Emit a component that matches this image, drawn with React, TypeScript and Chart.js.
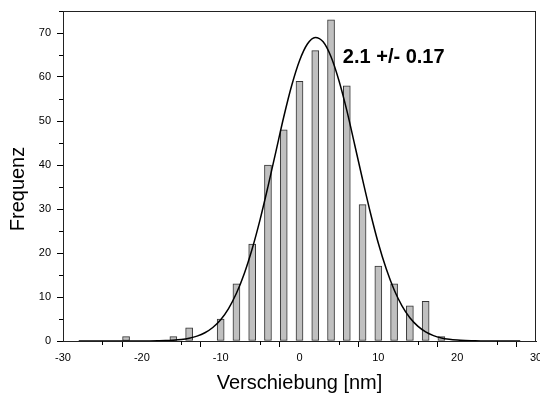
import React, { useEffect, useRef } from "react";
import { Chart, registerables } from "chart.js";

Chart.register(...registerables);

// Histogram bins (centre of bin, nm) and counts
const binCenters = [-22, -16, -14, -10, -8, -6, -4, -2, 0, 2, 4, 6, 8, 10, 12, 14, 16, 18];
const counts = [1, 1, 3, 5, 13, 22, 40, 48, 59, 66, 73, 58, 31, 17, 13, 8, 9, 1];

// Fitted curve
const curveX = [
  -28, -27, -26, -25, -24, -23, -22, -21, -20, -19, -18, -17, -16, -15, -14, -13, -12, -11, -10, -9,
  -8, -7, -6, -5, -4, -3, -2, -1, 0, 1, 2, 3, 4, 5, 6, 7, 8, 9, 10, 11, 12, 13, 14, 15, 16, 17, 18,
  19, 20, 21, 22, 23, 24, 25, 26, 27, 28,
];
const curveY = [
  0, 0, 0, 0, 0, 0, 0, 0, 0.01, 0.02, 0.05, 0.09, 0.18, 0.34, 0.63, 1.1, 1.87, 3.07, 4.84, 7.38,
  10.85, 15.35, 20.97, 27.6, 35.1, 43.0, 50.9, 58.0, 63.7, 67.5, 69.0, 68.0, 64.6, 59.2, 52.4, 44.6,
  36.7, 29.1, 22.2, 16.4, 11.65, 7.99, 5.28, 3.37, 2.07, 1.23, 0.7, 0.39, 0.21, 0.11, 0.05, 0, 0, 0,
  0, 0, 0,
];

const xTitle = "Verschiebung [nm]";
const yTitle = "Frequenz";
const fitLabel = "2.1 +/- 0.17";
const fitLabelPos = { x: 5.5, y: 64.5 };

const FONT = "'Liberation Sans', Arial, sans-serif";

const framePlugin = {
  id: "frame",
  afterDraw(chart: any) {
    const { ctx, chartArea } = chart;
    const xs = chart.scales.x;
    const ys = chart.scales.y;
    ctx.save();
    // frame
    ctx.strokeStyle = "#222";
    ctx.lineWidth = 1;
    ctx.beginPath();
    ctx.moveTo(chartArea.left, chartArea.top + 0.5);
    ctx.lineTo(chartArea.right, chartArea.top + 0.5);
    ctx.moveTo(chartArea.right - 0.5, chartArea.top);
    ctx.lineTo(chartArea.right - 0.5, chartArea.bottom);
    ctx.stroke();
    // minor ticks
    ctx.strokeStyle = "#000";
    ctx.beginPath();
    xs.ticks.forEach((t: any) => {
      if (t.value % 10 !== 0) {
        const px = Math.round(xs.getPixelForValue(t.value)) + 0.5;
        ctx.moveTo(px, chartArea.bottom);
        ctx.lineTo(px, chartArea.bottom + 4);
      }
    });
    ys.ticks.forEach((t: any) => {
      if (t.value % 10 !== 0) {
        const py = Math.round(ys.getPixelForValue(t.value)) + 0.5;
        ctx.moveTo(chartArea.left, py);
        ctx.lineTo(chartArea.left - 4, py);
      }
    });
    ctx.stroke();
    // y title
    ctx.fillStyle = "#000";
    ctx.font = `20px ${FONT}`;
    ctx.textAlign = "center";
    ctx.textBaseline = "middle";
    ctx.translate(18, (chartArea.top + chartArea.bottom) / 2 + 13);
    ctx.rotate(-Math.PI / 2);
    ctx.fillText(yTitle, 0, 0);
    ctx.restore();
    // fit label
    ctx.save();
    ctx.fillStyle = "#000";
    ctx.font = `bold 20px ${FONT}`;
    ctx.textAlign = "left";
    ctx.textBaseline = "middle";
    ctx.fillText(fitLabel, xs.getPixelForValue(fitLabelPos.x), ys.getPixelForValue(fitLabelPos.y));
    ctx.restore();
  },
};

export default function App() {
  const ref = useRef<HTMLCanvasElement>(null);
  useEffect(() => {
    document.body.style.margin = "0";
    const canvas = ref.current!;
    const chart = new Chart(canvas, {
      type: "bar",
      data: {
        datasets: [
          {
            type: "line",
            data: curveX.map((x, i) => ({ x, y: curveY[i] })),
            borderColor: "#000",
            borderWidth: 1.5,
            pointRadius: 0,
            cubicInterpolationMode: "monotone",
            fill: false,
            order: 0,
          } as any,
          {
            type: "bar",
            data: binCenters.map((x, i) => ({ x, y: counts[i] })),
            backgroundColor: "#c0c0c0",
            borderColor: "#333",
            borderWidth: 1,
            borderSkipped: false,
            barThickness: 7,
            order: 1,
          } as any,
        ],
      },
      options: {
        responsive: false,
        animation: false,
        layout: { padding: { top: 11, right: 4, bottom: 0, left: 0 } },
        plugins: { legend: { display: false }, tooltip: { enabled: false } },
        scales: {
          x: {
            type: "linear",
            min: -30,
            max: 30,
            offset: false,
            grid: {
              drawOnChartArea: false,
              drawTicks: true,
              tickLength: 6,
              tickColor: (c: any) => (c.tick && c.tick.value % 10 === 0 ? "#000" : "rgba(0,0,0,0)"),
            },
            border: { display: true, color: "#222", width: 1 },
            ticks: {
              stepSize: 5,
              autoSkip: false,
              maxRotation: 0,
              padding: 4,
              color: "#000",
              font: { family: FONT, size: 11 },
              callback: (v: any) => (Number(v) % 10 === 0 ? String(v) : ""),
            },
            title: {
              display: true,
              text: xTitle,
              color: "#000",
              font: { family: FONT, size: 20 },
              padding: { top: 0, bottom: 3 },
            },
            afterFit: (s: any) => {
              s.height = 57;
              s.paddingLeft = 0;
              s.paddingRight = 0;
            },
          } as any,
          y: {
            type: "linear",
            min: 0,
            max: 75,
            grid: {
              drawOnChartArea: false,
              drawTicks: true,
              tickLength: 6,
              tickColor: (c: any) => (c.tick && c.tick.value % 10 === 0 ? "#000" : "rgba(0,0,0,0)"),
            },
            border: { display: true, color: "#222", width: 1 },
            ticks: {
              stepSize: 5,
              autoSkip: false,
              padding: 6,
              color: "#000",
              font: { family: FONT, size: 11 },
              callback: (v: any) => (Number(v) % 10 === 0 ? String(v) : ""),
            },
            afterFit: (s: any) => {
              s.width = 63;
              s.paddingTop = 0;
              s.paddingBottom = 0;
            },
          } as any,
        },
      },
      plugins: [framePlugin],
    });
    return () => chart.destroy();
  }, []);
  return (
    <div style={{ width: 540, height: 398 }}>
      <canvas ref={ref} width={540} height={398} />
    </div>
  );
}
